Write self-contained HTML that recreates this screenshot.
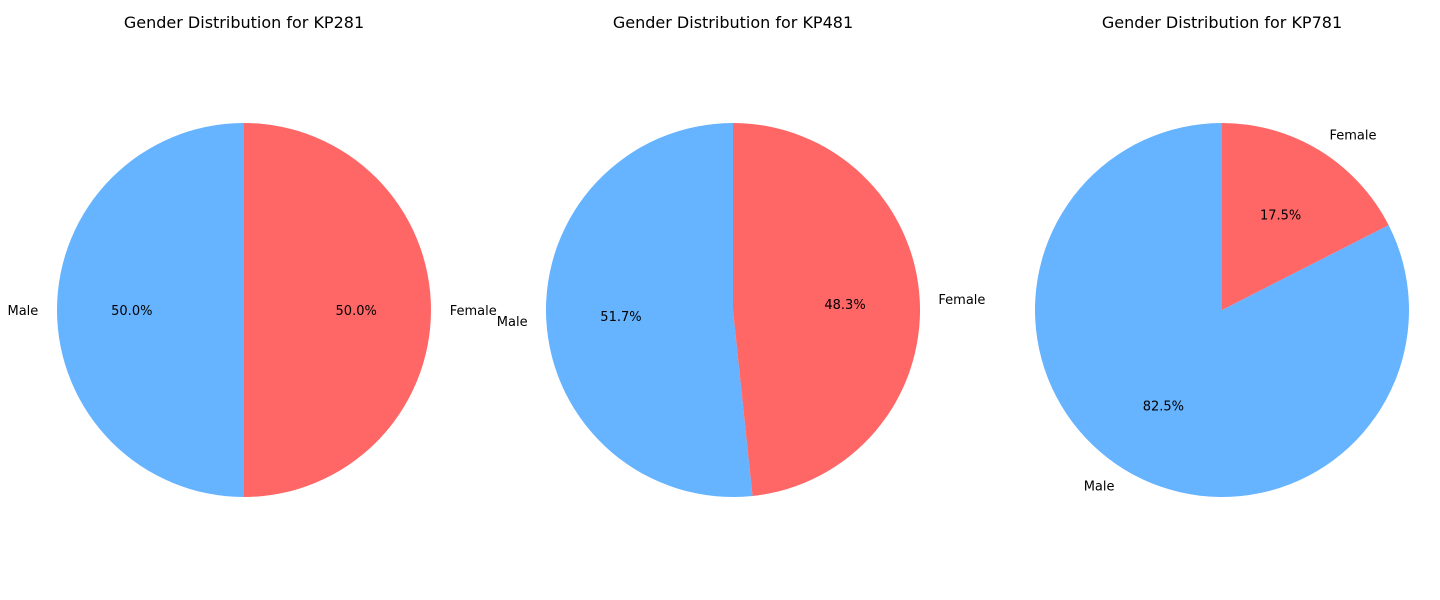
<!DOCTYPE html>
<html><head><meta charset="utf-8"><style>
html,body{margin:0;padding:0;background:#fff;}
svg{display:block;font-family:"DejaVu Sans","Liberation Sans",sans-serif;}
</style></head><body>
<svg id="chart" width="1440" height="600"></svg>
<script>
const products = ["KP281", "KP481", "KP781"];
const categories = ["Male", "Female"];
const maleCounts = [40, 31, 33];
const femaleCounts = [40, 29, 7];
const colors = ["#66b3ff", "#ff6666"];
const centersX = [244, 733, 1222];
const cy = 310, R = 187;
const NS = "http://www.w3.org/2000/svg";
const svg = document.getElementById("chart");
function mk(tag, attrs){const e=document.createElementNS(NS,tag);for(const k in attrs)e.setAttribute(k,attrs[k]);return e;}
function pt(cx,r,deg){const a=deg*Math.PI/180;return [cx+r*Math.cos(a), cy-r*Math.sin(a)];}
products.forEach((p,i)=>{
  const cx=centersX[i];
  const g=mk("g",{});
  
  
  svg.appendChild(g);
  const title=mk("text",{x:cx,y:28,"text-anchor":"middle","font-size":"16","fill":"#000"});
  
  
  title.textContent="Gender Distribution for "+p;
  g.appendChild(title);
  const vals=[maleCounts[i],femaleCounts[i]];
  const tot=vals[0]+vals[1];
  let start=90;
  vals.forEach((v,j)=>{
    const sweep=v/tot*360;
    const end=start+sweep;
    const [x1,y1]=pt(cx,R,start),[x2,y2]=pt(cx,R,end);
    const large=sweep>180?1:0;
    const path=mk("path",{d:`M${cx},${cy} L${x1},${y1} A${R},${R} 0 ${large} 0 ${x2},${y2} Z`,fill:colors[j]});
    
    
    g.appendChild(path);
    const mid=(start+end)/2;
    const [lx,ly]=pt(cx,R*1.1,mid);
    const lab=mk("text",{x:lx,y:ly+5,"text-anchor":Math.cos(mid*Math.PI/180)>0?"start":"end","font-size":"13",fill:"#000"});
    
    
    lab.textContent=categories[j];
    g.appendChild(lab);
    const [px,py]=pt(cx,R*0.6,mid);
    const pct=mk("text",{x:px,y:py+5,"text-anchor":"middle","font-size":"13",fill:"#000"});
    
    
    pct.textContent=(v/tot*100).toFixed(1)+"%";
    g.appendChild(pct);
    start=end;
  });
});
</script>
</body></html>
